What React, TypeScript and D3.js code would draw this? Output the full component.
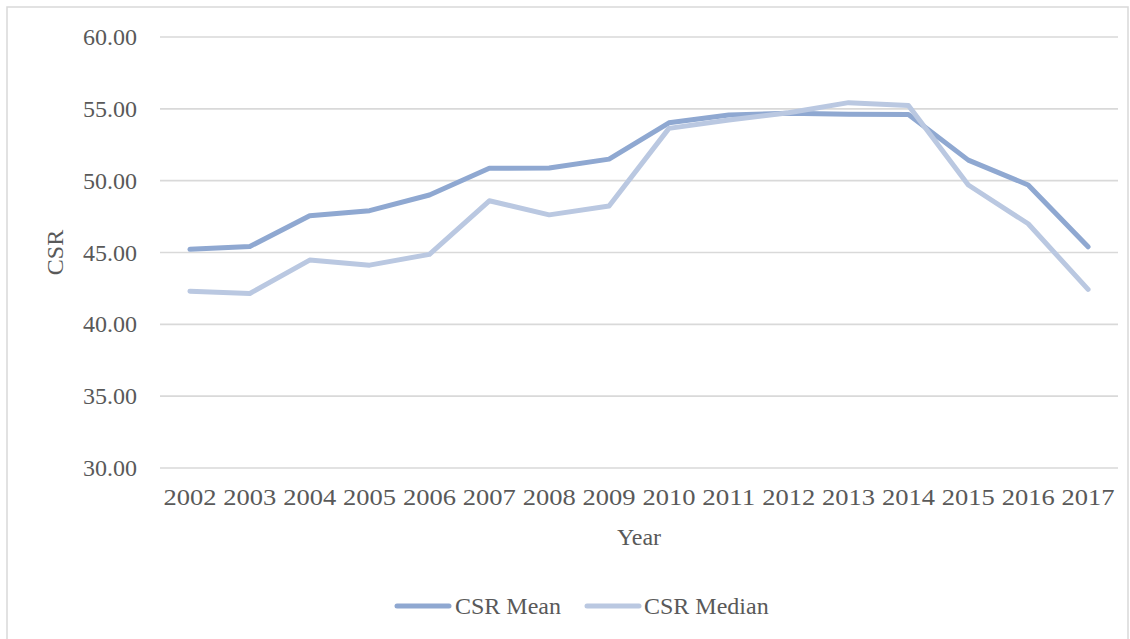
import React from "react";
import * as d3 from "d3";

const years = ["2002","2003","2004","2005","2006","2007","2008","2009","2010","2011","2012","2013","2014","2015","2016","2017"];
const csrMean = [45.22, 45.42, 47.56, 47.91, 49.0, 50.86, 50.88, 51.5, 54.03, 54.57, 54.69, 54.62, 54.6, 51.43, 49.7, 45.4];
const csrMedian = [42.31, 42.15, 44.47, 44.12, 44.87, 48.6, 47.62, 48.23, 53.64, 54.22, 54.73, 55.43, 55.24, 49.7, 47.0, 42.43];
const yTicks = [30, 35, 40, 45, 50, 55, 60];
const seriesNames = ["CSR Mean", "CSR Median"];
const seriesColors = ["#8FA8D1", "#BAC8E1"];

const W = 1130, H = 639;
const FONT = "'Liberation Serif', serif";
const TXT = "#595959";

export default function App() {
  const x = d3.scaleBand<string>().domain(years).range([160, 1118]).padding(0);
  const y = d3.scaleLinear().domain([30, 60]).range([468, 37]);
  const cx = (yr: string) => (x(yr) as number) + x.bandwidth() / 2;
  const line = d3.line<number>().x((_, i) => cx(years[i])).y((d) => y(d));
  const series = [csrMean, csrMedian];
  const fs = 24;
  return (
    <svg width={W} height={H} style={{ position: "absolute", left: 0, top: 0, background: "#fff" }}>
      <rect x={7} y={7} width={1121} height={660} fill="#fff" stroke="#d9d9d9" strokeWidth={1.5} />
      {yTicks.map((t) => (
        <g key={t}>
          <line x1={160} x2={1118} y1={y(t)} y2={y(t)} stroke="#d9d9d9" strokeWidth={1.6} />
          <text x={137} y={y(t)} dy="0.34em" textAnchor="end" fontFamily={FONT} fontSize={fs} fill={TXT}>
            {t.toFixed(2)}
          </text>
        </g>
      ))}
      {years.map((yr) => (
        <text key={yr} x={cx(yr)} y={505} textAnchor="middle" fontFamily={FONT} fontSize={fs} fill={TXT} textLength={53} lengthAdjust="spacingAndGlyphs">
          {yr}
        </text>
      ))}
      <text x={639} y={545} textAnchor="middle" fontFamily={FONT} fontSize={fs} fill={TXT}>Year</text>
      <text transform={`translate(63,252.5) rotate(-90)`} textAnchor="middle" fontFamily={FONT} fontSize={fs} fill={TXT}>CSR</text>
      {series.map((s, i) => (
        <path key={i} d={line(s) as string} fill="none" stroke={seriesColors[i]} strokeWidth={5} strokeLinecap="round" strokeLinejoin="round" />
      ))}
      {[{ x1: 397, tx: 455 }, { x1: 587, tx: 644 }].map((p, i) => (
        <g key={i}>
          <line x1={p.x1} x2={p.x1 + 52} y1={606} y2={606} stroke={seriesColors[i]} strokeWidth={5} strokeLinecap="round" />
          <text x={p.tx} y={606} dy="0.34em" fontFamily={FONT} fontSize={fs} fill={TXT}>{seriesNames[i]}</text>
        </g>
      ))}
    </svg>
  );
}
